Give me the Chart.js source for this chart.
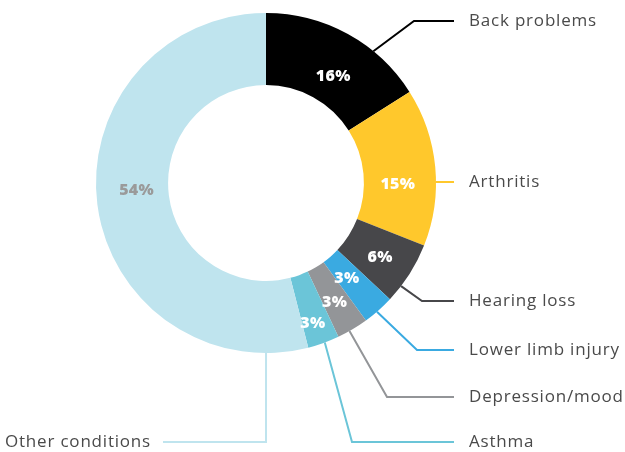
<!DOCTYPE html>
<html>
<head>
<meta charset="utf-8">
<script src="https://cdn.jsdelivr.net/npm/chart.js@4/dist/chart.umd.min.js"></script>
<style>
  html, body { margin: 0; padding: 0; background: #fff; }
  #wrap { width: 625px; height: 452px; position: relative; }
</style>
</head>
<body>
<div id="wrap"><canvas id="chart"></canvas></div>
<script>
// chart data
var categories = ["Back problems", "Arthritis", "Hearing loss", "Lower limb injury", "Depression/mood", "Asthma", "Other conditions"];
var shares = [16, 15, 6, 3, 3, 3, 54];
var colors = ["#000000", "#FFC82C", "#47474A", "#3AAAE1", "#939598", "#6BC5D8", "#BFE4EE"];

// label layout: where the leader line leaves the ring, its elbow and the text row
var leaderFrac = [0.68, 0.59, 0.73, 0.56, 0.61, 0.46, 0.074];
var elbowX = [414, null, 422, 417, 387, 352, 266];
var labelY = [21, 182, 301, 350, 397, 442, 442];
var labelSide = ["right", "right", "right", "right", "right", "right", "left"];
// percent text position inside each slice (fraction along arc, fraction across ring)
var pctFrac = [0.56, 0.61, 0.53, 0.61, 0.56, 0.63, 0.52];
var pctRing = [0.39, 0.47, 0.53, 0.38, 0.55, 0.70, 0.44];

var labelPlugin = {
  id: "labels",
  afterDraw: function(chart) {
    var ctx = chart.ctx;
    var arcs = chart.getDatasetMeta(0).data;
    ctx.save();
    for (var i = 0; i < arcs.length; i++) {
      var a = arcs[i];
      var span = a.endAngle - a.startAngle;

      // leader line
      var ang = a.startAngle + span * leaderFrac[i];
      var sx = a.x + Math.cos(ang) * a.outerRadius;
      var sy = a.y + Math.sin(ang) * a.outerRadius;
      var ex = elbowX[i] === null ? sx : elbowX[i];
      var endX = labelSide[i] === "right" ? 454 : 163;
      ctx.beginPath();
      ctx.moveTo(sx, sy);
      ctx.lineTo(ex, labelY[i]);
      ctx.lineTo(endX, labelY[i]);
      ctx.strokeStyle = colors[i];
      ctx.lineWidth = 2;
      ctx.stroke();

      // category text
      ctx.font = "17px 'Open Sans', sans-serif";
      ctx.letterSpacing = "0.8px";
      ctx.fillStyle = "#4A4A4A";
      ctx.textBaseline = "middle";
      if (labelSide[i] === "right") {
        ctx.textAlign = "left";
        ctx.fillText(categories[i], 469, labelY[i]);
      } else {
        ctx.textAlign = "right";
        ctx.fillText(categories[i], 151, labelY[i]);
      }

      // percent inside slice
      var pa = a.startAngle + span * pctFrac[i];
      var pr = a.innerRadius + (a.outerRadius - a.innerRadius) * pctRing[i];
      ctx.font = "800 16px 'Open Sans', sans-serif";
      ctx.letterSpacing = "0.3px";
      ctx.textAlign = "center";
      ctx.fillStyle = i === 6 ? "#9A9A9A" : "#FFFFFF";
      ctx.fillText(shares[i] + "%", a.x + Math.cos(pa) * pr, a.y + Math.sin(pa) * pr);
    }
    ctx.restore();
  }
};

var myChart = new Chart(document.getElementById("chart"), {
  type: "doughnut",
  data: {
    labels: categories,
    datasets: [{
      data: shares,
      backgroundColor: colors,
      borderWidth: 0
    }]
  },
  options: {
    responsive: true,
    maintainAspectRatio: false,
    animation: false,
    cutout: "57.6%",
    layout: { padding: { left: 96, right: 189, top: 13, bottom: 99 } },
    plugins: {
      legend: { display: false },
      tooltip: { enabled: false }
    }
  },
  plugins: [labelPlugin]
});
</script>
</body>
</html>
